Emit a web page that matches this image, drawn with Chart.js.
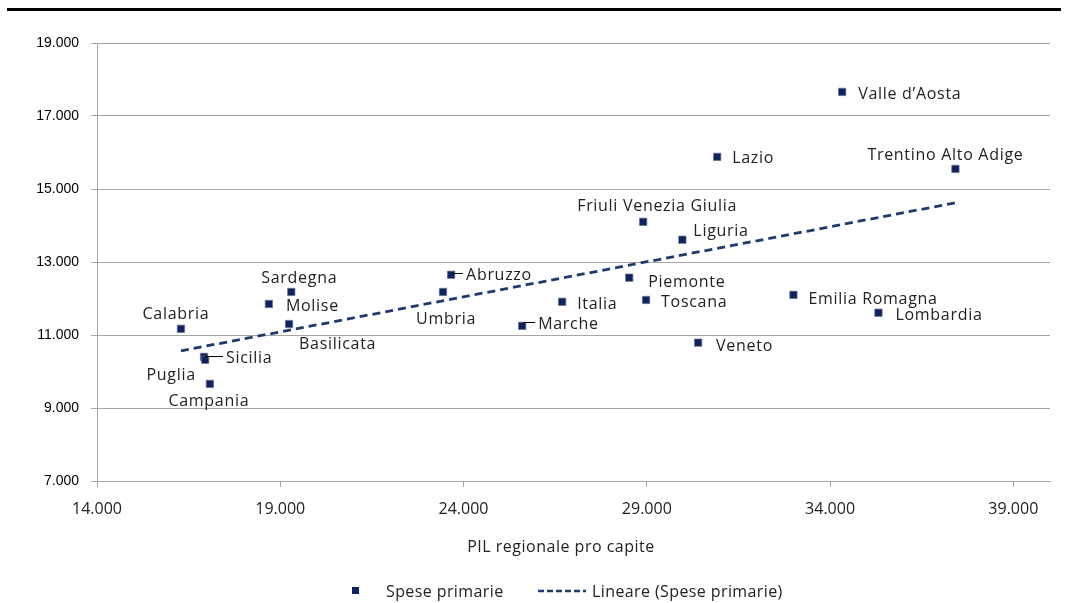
<!DOCTYPE html>
<html>
<head>
<meta charset="utf-8">
<script src="https://cdn.jsdelivr.net/npm/chart.js@4/dist/chart.umd.min.js"></script>
<style>
  html, body { margin: 0; padding: 0; background: #ffffff; }
  #wrap { width: 1080px; height: 603px; }
</style>
</head>
<body>
<div id="wrap"><canvas id="c" width="1080" height="603"></canvas></div>
<script>
// ---- Data ----
const regions = [
  'Calabria', 'Sicilia', 'Puglia', 'Campania', 'Molise', 'Sardegna', 'Basilicata',
  'Umbria', 'Abruzzo', 'Marche', 'Italia', 'Piemonte', 'Toscana', 'Veneto',
  'Friuli Venezia Giulia', 'Liguria', 'Lazio', 'Valle d\u2019Aosta',
  'Trentino Alto Adige', 'Emilia Romagna', 'Lombardia'
];
const pilProCapite = [
  16290, 16920, 16950, 17080, 18690, 19300, 19240,
  23440, 23660, 25600, 26690, 28520, 28980, 30400,
  28900, 29970, 30920, 34330,
  37420, 33000, 35320
];
const spesePrimarie = [
  11170, 10400, 10320, 9660, 11850, 12180, 11300,
  12180, 12650, 11250, 11910, 12570, 11960, 10790,
  14100, 13610, 15880, 17660,
  15550, 12100, 11610
];
const trendX = [16290, 37420];
const trendY = [10565, 14622];
const xTicks = [14000, 19000, 24000, 29000, 34000, 39000];
const yTicks = [7000, 9000, 11000, 13000, 15000, 17000, 19000];
const seriesLabel = 'Spese primarie';
const trendLabel = 'Lineare (Spese primarie)';
const xTitle = 'PIL regionale pro capite';

// ---- Label placement (layout, offsets in px from the marker) ----
const labelLayout = {
  'Calabria': { dx: -5, dy: -16, align: 'center' },
  'Sicilia': { dx: 22, dy: 0, align: 'left', leader: true },
  'Puglia': { dx: -34, dy: 14, align: 'center' },
  'Campania': { dx: -1, dy: 16, align: 'center' },
  'Molise': { dx: 17, dy: 1, align: 'left' },
  'Sardegna': { dx: 8, dy: -15, align: 'center' },
  'Basilicata': { dx: 10, dy: 19, align: 'left' },
  'Umbria': { dx: 3, dy: 26, align: 'center' },
  'Abruzzo': { dx: 15, dy: -1, align: 'left', leader: true },
  'Marche': { dx: 16, dy: -3, align: 'left', leader: true },
  'Italia': { dx: 15, dy: 1, align: 'left' },
  'Piemonte': { dx: 19, dy: 3, align: 'left' },
  'Toscana': { dx: 15, dy: 1, align: 'left' },
  'Veneto': { dx: 18, dy: 2, align: 'left' },
  'Friuli Venezia Giulia': { dx: 14, dy: -17, align: 'center' },
  'Liguria': { dx: 11, dy: -10, align: 'left' },
  'Lazio': { dx: 15, dy: 0, align: 'left' },
  'Valle d\u2019Aosta': { dx: 16, dy: 1, align: 'left' },
  'Trentino Alto Adige': { dx: -10, dy: -15, align: 'center' },
  'Emilia Romagna': { dx: 15, dy: 3, align: 'left' },
  'Lombardia': { dx: 17, dy: 1, align: 'left' }
};

const FONT = '"Open Sans", "Liberation Sans", sans-serif';
const MARK = '#0c2461';
const TREND = '#1f3a6e';
const TEXT = '#222222';
const GRID = '#a6a6a6';

function fmt(v) {
  const k = Math.floor(v / 1000);
  const r = String(Math.round(v % 1000)).padStart(3, '0');
  return k + '.' + r;
}

const decorPlugin = {
  id: 'decor',
  beforeDraw(chart) {
    const ctx = chart.ctx;
    ctx.save();
    ctx.fillStyle = '#000';
    ctx.fillRect(7, 8, 1054, 3);
    ctx.restore();
  },
  afterDatasetsDraw(chart) {
    const ctx = chart.ctx;
    const meta = chart.getDatasetMeta(0);
    ctx.save();
    ctx.font = '16px ' + FONT;
    ctx.letterSpacing = '0.7px';
    ctx.fillStyle = TEXT;
    ctx.textBaseline = 'middle';
    meta.data.forEach((pt, i) => {
      const name = regions[i];
      const lay = labelLayout[name] || { dx: 12, dy: 0, align: 'left' };
      const tx = pt.x + lay.dx, ty = pt.y + lay.dy;
      ctx.textAlign = lay.align;
      ctx.fillText(name, tx, ty + 1.5);
      if (lay.leader) {
        ctx.beginPath();
        ctx.strokeStyle = '#000';
        ctx.lineWidth = 1;
        ctx.moveTo(pt.x + 1, Math.round(ty) - 0.5);
        ctx.lineTo(tx - 3, Math.round(ty) - 0.5);
        ctx.stroke();
      }
    });
    ctx.restore();
  },
  afterDraw(chart) {
    const ctx = chart.ctx;
    // x-axis title
    ctx.save();
    ctx.font = '16px ' + FONT;
    ctx.letterSpacing = '0.5px';
    ctx.fillStyle = TEXT;
    ctx.textBaseline = 'middle';
    ctx.textAlign = 'center';
    ctx.fillText(xTitle, 561, 547);
    ctx.restore();
    // legend
    const ly = 591;
    ctx.save();
    ctx.fillStyle = MARK;
    ctx.fillRect(352, ly - 4, 7, 7);
    ctx.font = '16px ' + FONT;
    ctx.letterSpacing = '0.4px';
    ctx.fillStyle = TEXT;
    ctx.textBaseline = 'middle';
    ctx.textAlign = 'left';
    ctx.fillText(seriesLabel, 386, ly + 1);
    ctx.beginPath();
    ctx.strokeStyle = TREND;
    ctx.lineWidth = 2.5;
    ctx.setLineDash([6, 3]);
    ctx.moveTo(538, ly);
    ctx.lineTo(586, ly);
    ctx.stroke();
    ctx.setLineDash([]);
    ctx.fillText(trendLabel, 592, ly + 1);
    ctx.restore();
  }
};

const ctx = document.getElementById('c').getContext('2d');
new Chart(ctx, {
  type: 'scatter',
  data: {
    datasets: [
      {
        label: seriesLabel,
        data: pilProCapite.map((x, i) => ({ x: x, y: spesePrimarie[i] })),
        pointStyle: 'rect',
        pointRadius: 5.2,
        pointHoverRadius: 5.2,
        backgroundColor: MARK,
        borderColor: 'rgba(110,115,135,0.7)',
        borderWidth: 1,
        order: 0
      },
      {
        label: trendLabel,
        data: trendX.map((x, i) => ({ x: x, y: trendY[i] })),
        showLine: true,
        pointRadius: 0,
        borderColor: TREND,
        borderWidth: 2.8,
        borderDash: [8, 5],
        fill: false,
        order: 1
      }
    ]
  },
  options: {
    responsive: false,
    animation: false,
    layout: { padding: { top: 43, right: 30, bottom: 45, left: 0 } },
    plugins: {
      legend: { display: false },
      tooltip: { enabled: false }
    },
    scales: {
      x: {
        type: 'linear',
        min: 14000,
        max: 40000,
        afterBuildTicks(scale) { scale.ticks = xTicks.map(v => ({ value: v })); },
        afterFit(scale) { scale.height = 77; },
        grid: { drawOnChartArea: false, drawTicks: true, tickLength: 6, color: GRID },
        border: { display: true, color: GRID },
        ticks: {
          padding: 13,
          color: TEXT,
          font: { family: FONT, size: 16 },
          maxRotation: 0,
          callback: v => fmt(v)
        },
        title: { display: false, text: xTitle }
      },
      y: {
        type: 'linear',
        min: 7000,
        max: 19000,
        afterBuildTicks(scale) { scale.ticks = yTicks.map(v => ({ value: v })); },
        afterFit(scale) { scale.width = 97; },
        grid: { drawOnChartArea: true, drawTicks: true, tickLength: 6, color: GRID },
        border: { display: true, color: GRID },
        ticks: {
          padding: 12,
          color: '#000',
          font: { family: '"Liberation Sans", Arial, sans-serif', size: 14 },
          callback: v => fmt(v)
        }
      }
    }
  },
  plugins: [decorPlugin]
});
</script>
</body>
</html>
